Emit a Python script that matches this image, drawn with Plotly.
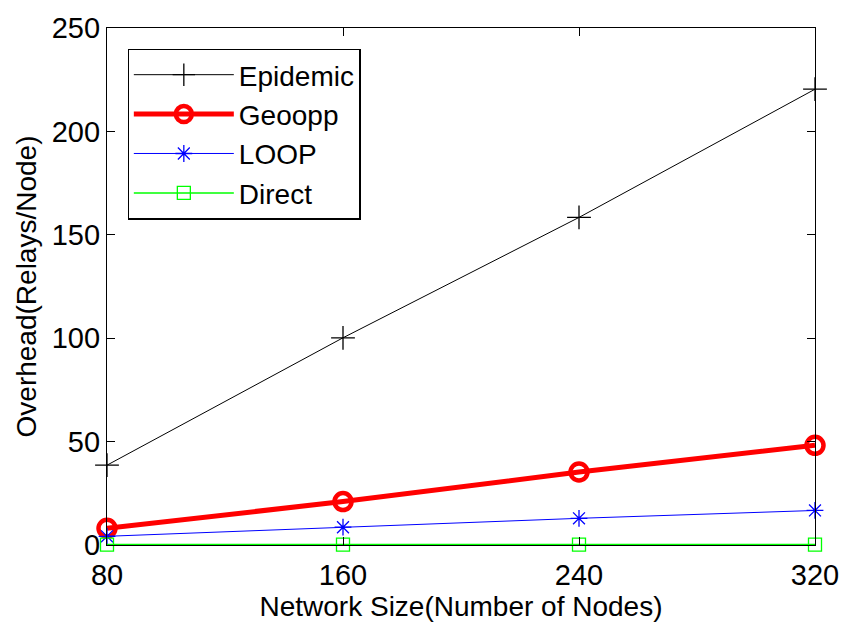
import plotly.graph_objects as go

network_size = [80, 160, 240, 320]
epidemic = [38.6, 100.2, 158.4, 220.4]
geoopp = [8.1, 21.0, 35.3, 48.2]
loop = [4.2, 8.6, 12.9, 16.7]
direct = [0.2, 0.2, 0.2, 0.2]

x_ticks = [80, 160, 240, 320]
y_ticks = [0, 50, 100, 150, 200, 250]

FONT = "Liberation Sans, Arial, Helvetica, sans-serif"

fig = go.Figure()
fig.add_trace(go.Scatter(
    x=network_size, y=epidemic, name="Epidemic", mode="lines+markers",
    line=dict(color="black", width=1),
    marker=dict(symbol="cross-thin-open", size=17, color="black", line=dict(width=1.3, color="black")),
    cliponaxis=False))
fig.add_trace(go.Scatter(
    x=network_size, y=geoopp, name="Geoopp", mode="lines+markers",
    line=dict(color="#ff0000", width=5),
    marker=dict(symbol="circle-open", size=17, color="#ff0000", line=dict(width=4.5, color="#ff0000")),
    cliponaxis=False))
fig.add_trace(go.Scatter(
    x=network_size, y=loop, name="LOOP", mode="lines+markers",
    line=dict(color="#0000ff", width=1),
    marker=dict(symbol="asterisk-open", size=14, color="#0000ff", line=dict(width=1.3, color="#0000ff")),
    cliponaxis=False))
fig.add_trace(go.Scatter(
    x=network_size, y=direct, name="Direct", mode="lines+markers",
    line=dict(color="#00ff00", width=1.5),
    marker=dict(symbol="square-open", size=13, color="#00ff00", line=dict(width=1.3, color="#00ff00")),
    cliponaxis=False))

axis_common = dict(
    showline=True, linecolor="black", linewidth=1.3, mirror="ticks",
    ticks="inside", ticklen=8, tickwidth=1, tickcolor="black",
    showgrid=False, zeroline=False,
    tickfont=dict(family=FONT, size=29, color="black"),
)

fig.update_layout(
    width=851, height=625,
    paper_bgcolor="white", plot_bgcolor="white",
    margin=dict(l=107, r=28, t=23, b=77),
    font=dict(family=FONT, size=28, color="black"),
    xaxis=dict(range=[80, 320], tickvals=x_ticks, ticklabelstandoff=4,
               title=dict(text="Network Size(Number of Nodes)", font=dict(family=FONT, size=28), standoff=2),
               **axis_common),
    yaxis=dict(range=[0, 250], tickvals=y_ticks,
               title=dict(text="Overhead(Relays/Node)", font=dict(family=FONT, size=28), standoff=6),
               **axis_common),
    legend=dict(x=0.029, y=0.96, xanchor="left", yanchor="top",
                bgcolor="white", bordercolor="black", borderwidth=1.3,
                font=dict(family=FONT, size=28, color="black"),
                itemwidth=100, tracegroupgap=0),
    showlegend=True,
)

fig.write_html("out.html")
